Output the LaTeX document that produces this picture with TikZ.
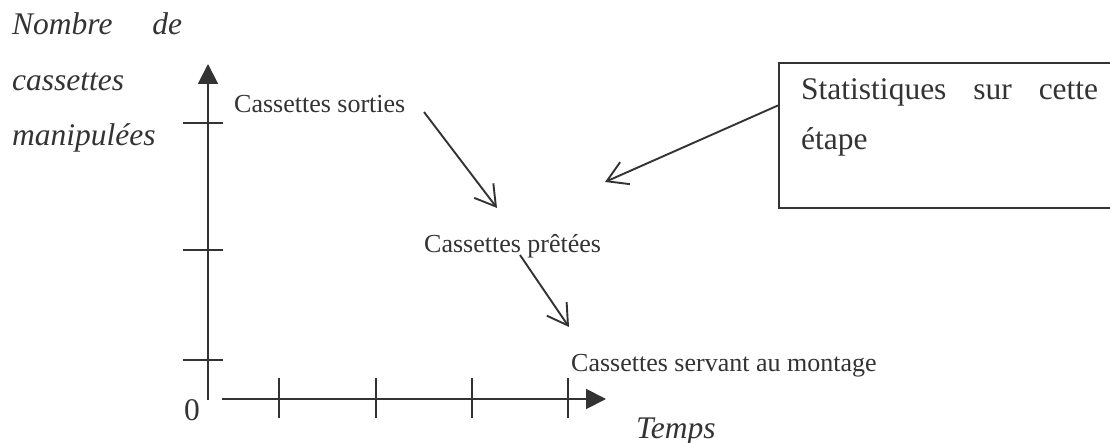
\documentclass[tikz,border=0pt]{standalone}
\usepackage{fontspec}
\setmainfont{Liberation Serif}
\usetikzlibrary{arrows.meta}
\colorlet{trait}{black!80}

\begin{document}
\begin{tikzpicture}[x=1pt,y=-1pt,
  petit/.style={anchor=base west,inner sep=0pt,text=trait,font=\fontsize{26}{30}\selectfont},
  grand/.style={anchor=base west,inner sep=0pt,text=trait,font=\fontsize{31.5}{36}\selectfont},
  titre/.style={anchor=base west,inner sep=0pt,text=trait,font=\fontsize{31.5}{36}\selectfont\itshape},
  axe/.style={draw=trait,line width=1.9pt,-{Triangle[length=20pt,width=20pt]}},
  graduation/.style={draw=trait,line width=1.9pt},
  fleche/.style={draw=trait,line width=1.9pt,-{Straight Barb[length=20pt,width=24pt]}}]
\useasboundingbox (0,0) rectangle (1110,443);
% axes
\coordinate (origine) at (208,400);
\coordinate (ymax) at (208,64);
\coordinate (xdebut) at (222,399);
\coordinate (xmax) at (606,399);
\draw[axe] (origine) -- (ymax);
\draw[axe] (xdebut) -- (xmax);
\foreach \y in {123,250,360} \draw[graduation] (183,\y) -- (223,\y);
\foreach \x in {279,376,472,568} \draw[graduation] (\x,378) -- (\x,418);
\node[grand] (zero) at (184,420) {0};
\node[titre] (nombre) at (12,35) {\makebox[170pt][s]{Nombre de}};
\node[titre] (cassettes) at (12,91) {cassettes};
\node[titre] (manip) at (12,146) {manipulées};
\node[titre] (temps) at (636,438) {Temps};
% courbes
\node[petit] (sorties) at (234,113) {Cassettes sorties};
\node[petit] (pretees) at (424,253) {Cassettes prêtées};
\node[petit] (montage) at (571,371) {Cassettes servant au montage};
\coordinate (pointA) at (424,112);
\coordinate (pointB) at (497,208);
\coordinate (pointC) at (520,255);
\coordinate (pointD) at (569,327);
\coordinate (pointE) at (605,182);
\draw[fleche] (pointA) -- (pointB);
\draw[fleche] (pointC) -- (pointD);
% encadre
\node[draw=trait,line width=1.9pt,anchor=north west,minimum width=345pt,minimum height=145pt,inner sep=0pt] (cadre) at (778,62) {};
\node[grand] (stat) at (801,100) {\makebox[297pt][s]{Statistiques sur cette}};
\node[grand] (etape) at (801,150) {étape};
\draw[fleche] ([yshift=30pt]cadre.west) -- (pointE);
\end{tikzpicture}
\end{document}
